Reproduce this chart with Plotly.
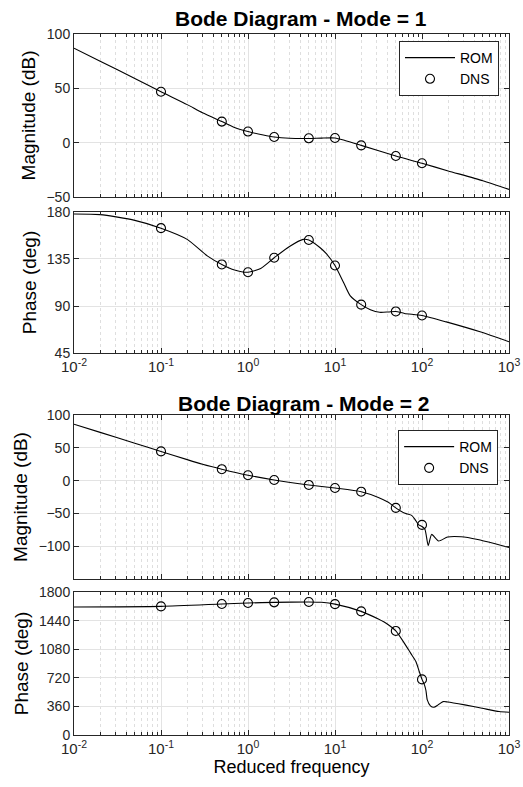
import plotly.graph_objects as go

# ---------------- data ----------------
dns_freq = [0.1, 0.5, 1, 2, 5, 10, 20, 50, 100]

m1_mag_dns = [46.8, 19.4, 10.2, 5.2, 4.0, 4.3, -2.5, -12.3, -19.0]
m1_ph_dns = [164.5, 129.8, 122.3, 136.2, 153.2, 128.8, 91.3, 84.8, 80.9]
m2_mag_dns = [44.5, 17.4, 8.2, 1.0, -6.6, -11.3, -16.9, -41.5, -67.5]
m2_ph_dns = [1619, 1649, 1661, 1670, 1674, 1647, 1556, 1310, 700]

rom1_mag_f = [0.01, 0.02, 0.05, 0.1, 0.2, 0.3, 0.5, 0.7, 1, 1.5, 2, 3, 5, 7, 10, 13, 20, 50, 100, 200, 500, 1000]
rom1_mag = [87, 75, 59, 46.8, 35, 27.5, 19.4, 14, 10.2, 7, 5.2, 4.0, 3.8, 4.2, 4.3, 2.0, -2.5, -12.3, -19, -26, -35, -43]

rom1_ph_f = [0.01, 0.02, 0.05, 0.1, 0.2, 0.34, 0.5, 0.7, 1, 1.4, 2, 3, 4.3, 5, 6.7, 8, 10, 12.5, 14.9, 20, 25.5, 32.6, 41, 50, 63, 100, 190, 465, 1000]
rom1_ph = [178, 177.5, 172, 164.5, 153.8, 138, 129.8, 124.5, 122.3, 126, 136.2, 147, 153.8, 153.2, 146, 139.8, 128.8, 112.8, 100, 91.3, 86.5, 84.0, 84.3, 84.8, 82.9, 80.9, 74.8, 65.3, 55.8]

rom2_mag_f = [0.01, 0.02, 0.05, 0.1, 0.2, 0.3, 0.5, 1, 2, 5, 10, 20, 31.5, 41, 50, 62.6, 68, 76, 83, 91, 100, 108, 118, 129, 155, 197, 281, 437, 676, 1000]
rom2_mag = [86, 73.5, 57, 44.5, 32, 25, 17.4, 8.2, 1.0, -6.6, -11.3, -16.9, -25.6, -33, -41.5, -49.5, -51, -53, -59, -67, -70, -74, -99, -82, -92, -86, -85.6, -89.7, -95.9, -102]

rom2_ph_f = [0.01, 0.1, 0.5, 1, 2, 5, 7, 10, 20, 31.5, 41, 50, 62.6, 74, 85, 93, 100, 106, 111, 115, 125, 137, 153, 175, 197, 310, 490, 770, 1000]
rom2_ph = [1611, 1619, 1649, 1661, 1670, 1674, 1670, 1647, 1556, 1459, 1388, 1310, 1157, 1030, 925, 799, 700, 640, 560, 442, 366, 349, 379, 420, 416, 379, 337, 295, 286]

xtick_vals = [0.01, 0.1, 1, 10, 100, 1000]
xtick_text = ["10<sup>-2</sup>", "10<sup>-1</sup>", "10<sup>0</sup>", "10<sup>1</sup>", "10<sup>2</sup>", "10<sup>3</sup>"]
minor_vals = [m * 10 ** e for e in range(-2, 3) for m in range(2, 10)]

# ---------------- figure ----------------
FONT = "Liberation Sans, Arial, Helvetica, sans-serif"
AX = "#262626"
fig = go.Figure()

panels = [
    (rom1_mag_f, rom1_mag, m1_mag_dns, "x", "y", "legend"),
    (rom1_ph_f, rom1_ph, m1_ph_dns, "x2", "y2", None),
    (rom2_mag_f, rom2_mag, m2_mag_dns, "x3", "y3", "legend2"),
    (rom2_ph_f, rom2_ph, m2_ph_dns, "x4", "y4", None),
]
for rf, rv, dv, xa, ya, lg in panels:
    fig.add_trace(go.Scatter(x=rf, y=rv, mode="lines", name="ROM",
                             line=dict(color="black", width=1.1, shape="spline", smoothing=0.6),
                             xaxis=xa, yaxis=ya, showlegend=lg is not None,
                             legend=lg if lg else "legend"))
    fig.add_trace(go.Scatter(x=dns_freq, y=dv, mode="markers", name="DNS",
                             marker=dict(symbol="circle-open", size=9, color="black",
                                         line=dict(width=1.1, color="black")),
                             xaxis=xa, yaxis=ya, showlegend=lg is not None,
                             legend=lg if lg else "legend"))

domains = [[0.7675, 1.0], [0.5449, 0.7461], [0.2225, 0.4565], [0.0, 0.2040]]
yranges = [[-50, 100], [45, 180], [-150, 100], [0, 1800]]
yticks = [[-50, 0, 50, 100], [45, 90, 135, 180], [-100, -50, 0, 50, 100], [0, 360, 720, 1080, 1440, 1800]]
ytitles = ["Magnitude (dB)", "Phase (deg)", "Magnitude (dB)", "Phase (deg)"]

layout = dict(
    width=523, height=787,
    margin=dict(l=74, r=14, t=34, b=52),
    paper_bgcolor="white", plot_bgcolor="white",
    font=dict(family=FONT, size=14, color="black"),
)
for i in range(4):
    n = "" if i == 0 else str(i + 1)
    layout["xaxis" + n] = dict(
        type="log", range=[-2, 3], domain=[0, 1], anchor="y" + n,
        tickmode="array", tickvals=xtick_vals, ticktext=xtick_text,
        showticklabels=(i in (1, 3)), ticklabeloverflow="allow", automargin=False,
        ticks="inside", ticklen=5, tickcolor=AX,
        showline=True, linecolor=AX, linewidth=1, mirror="allticks",
        showgrid=True, gridcolor="#e3e3e3", gridwidth=1,
        minor=dict(tickmode="array", tickvals=minor_vals, ticks="inside", ticklen=3,
                   tickcolor=AX, showgrid=True, gridcolor="#dedede", griddash="dot", gridwidth=1),
        tickfont=dict(size=15, color=AX), zeroline=False,
    )
    layout["yaxis" + n] = dict(
        domain=domains[i], anchor="x" + n, range=yranges[i], automargin=False,
        tickmode="array", tickvals=yticks[i],
        ticks="inside", ticklen=5, tickcolor=AX,
        showline=True, linecolor=AX, linewidth=1, mirror="allticks",
        showgrid=True, gridcolor="#e3e3e3", gridwidth=1, zeroline=False,
        tickfont=dict(size=14, color=AX),
        title=dict(text=ytitles[i], font=dict(size=19, color="black"), standoff=5),
    )
layout["xaxis4"]["title"] = dict(text="Reduced frequency", font=dict(size=18, color="black"), standoff=2)

leg_common = dict(bgcolor="white", bordercolor=AX, borderwidth=1,
                  font=dict(size=14, color="black"), xanchor="right", yanchor="top",
                  tracegroupgap=0, itemwidth=50)
layout["legend"] = dict(x=0.977, y=0.990, **leg_common)
layout["legend2"] = dict(x=0.975, y=0.435, **leg_common)

layout["annotations"] = [
    dict(text="<b>Bode Diagram - Mode = 1</b>", x=0.522, y=1.0214, xref="paper", yref="paper",
         showarrow=False, font=dict(size=21, color="black"), xanchor="center", yanchor="middle"),
    dict(text="<b>Bode Diagram - Mode = 2</b>", x=0.527, y=0.4736, xref="paper", yref="paper",
         showarrow=False, font=dict(size=21, color="black"), xanchor="center", yanchor="middle"),
]
fig.update_layout(**layout)
fig.write_html(
    "out.html",
    config={"displayModeBar": False},
    post_script="document.body.style.margin='0';document.documentElement.style.overflow='hidden';",
)
